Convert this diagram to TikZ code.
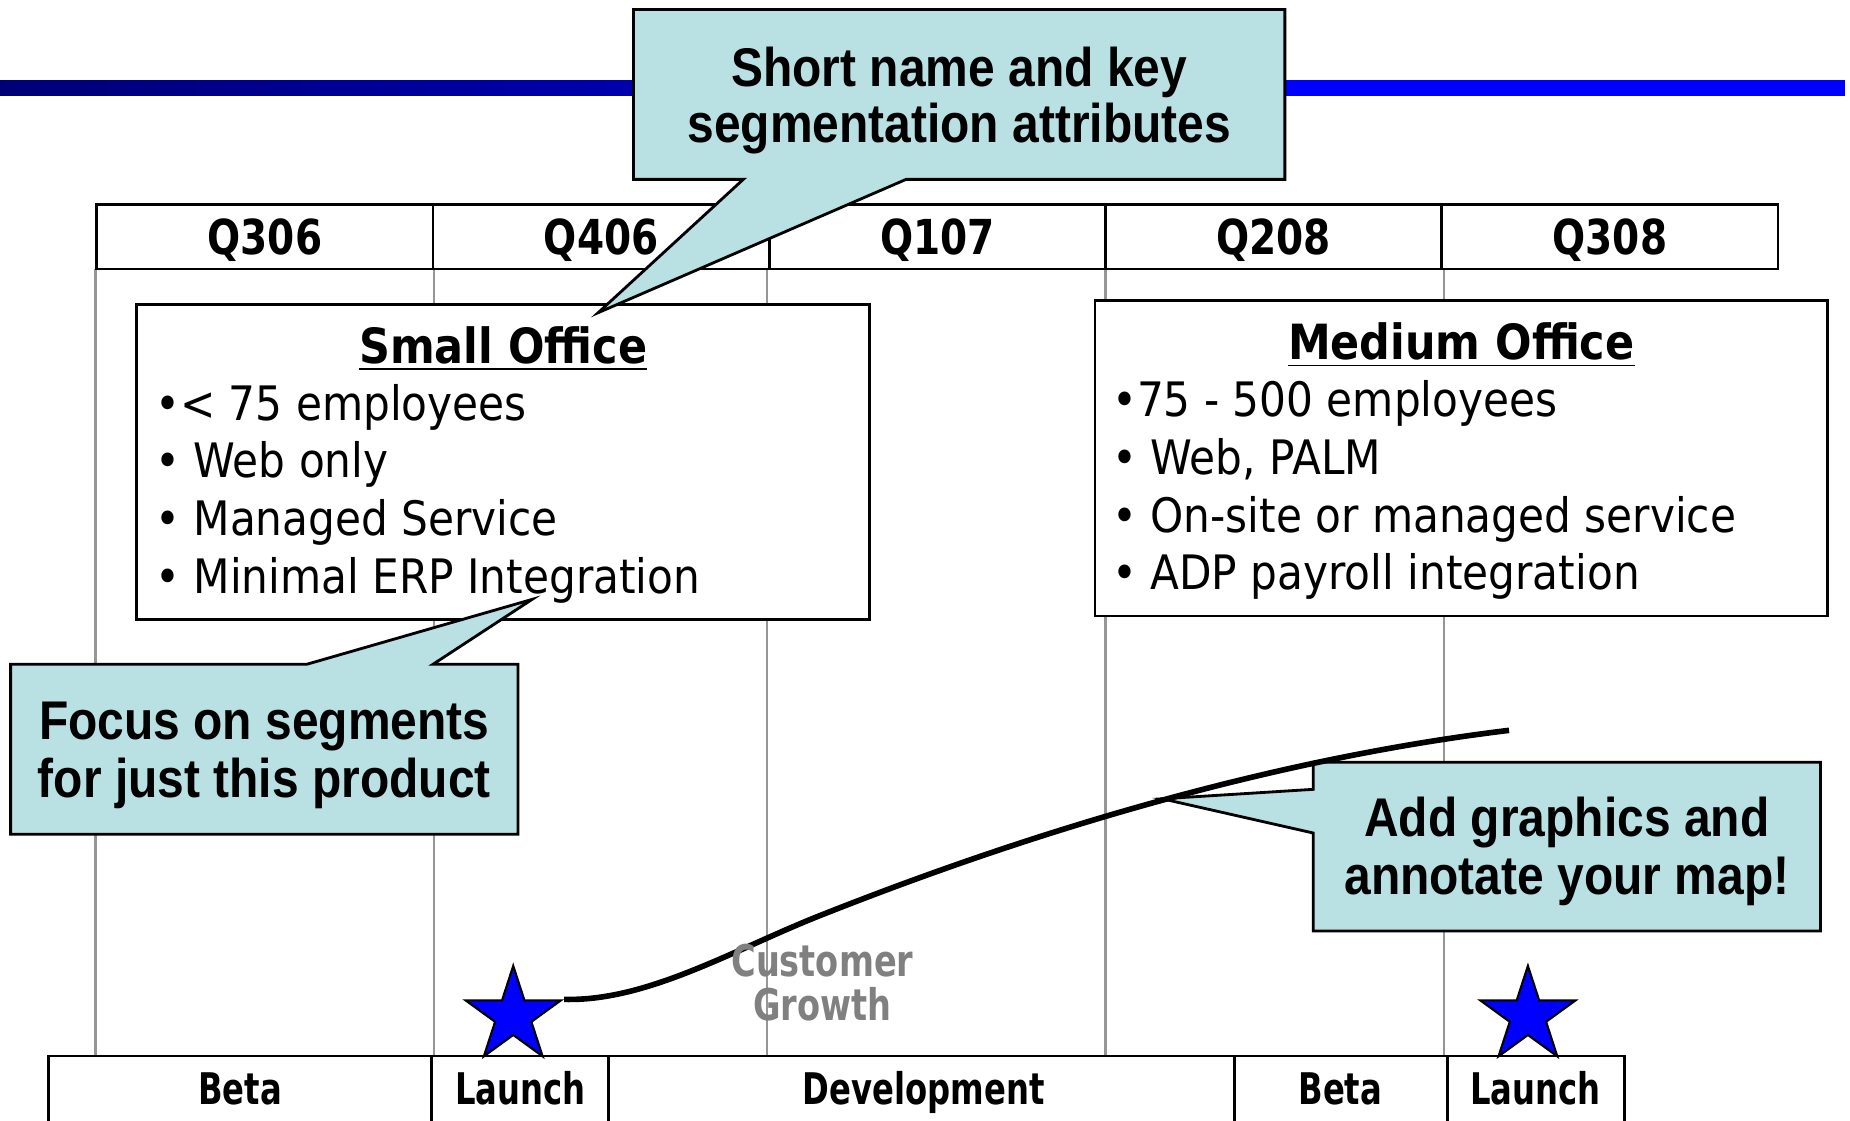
\documentclass[tikz,border=0pt]{standalone}
\usepackage{fontspec}
\usetikzlibrary{shapes.geometric,calc}

% Fonts: condensed bold sans for callouts, Tahoma-like sans for the map body
\newfontfamily\calloutfont{Liberation Sans}[FakeStretch=0.88]
\newfontfamily\bodyfont{DejaVu Sans}[FakeStretch=0.89]
\newfontfamily\titlefont{DejaVu Sans}[FakeStretch=0.885]
\newfontfamily\quarterfont{DejaVu Sans}[FakeStretch=0.81]
\newfontfamily\phasefont{DejaVu Sans}[FakeStretch=0.74]
\newfontfamily\growthfont{DejaVu Sans}[FakeStretch=0.77]

\definecolor{calloutfill}{RGB}{185,224,227}
\definecolor{gridgray}{RGB}{150,150,150}
\definecolor{growthgray}{RGB}{128,128,128}
\definecolor{barnavy}{RGB}{0,0,118}
\definecolor{barmid}{RGB}{0,0,232}
\definecolor{barblue}{RGB}{0,0,255}
\definecolor{starblue}{RGB}{0,0,255}

\newcommand\pxu{0.0118cm}

\tikzset{
  callout/.style={fill=calloutfill, draw=black, line width=0.8pt, line join=miter},
  callouttext/.style={font=\calloutfont\bfseries\fontsize{15.5}{16}\selectfont, anchor=base, inner sep=0pt},
  gridline/.style={draw=gridgray, line width=0.7pt},
  qcell/.style={draw=black, line width=0.8pt, fill=white, minimum width=285*\pxu, minimum height=55*\pxu, inner sep=0pt},
  qlabel/.style={font=\quarterfont\bfseries\fontsize{13.7}{16}\selectfont, anchor=base, inner sep=0pt},
  officebox/.style={draw=black, line width=0.8pt, fill=white, inner sep=0pt, minimum width=621*\pxu, minimum height=267*\pxu},
  officetitle/.style={font=\titlefont\bfseries\fontsize{13.8}{16}\selectfont, anchor=base, inner sep=0pt},
  bulletline/.style={font=\bodyfont\fontsize{13.5}{16}\selectfont, anchor=base west, inner sep=0pt},
  phaseline/.style={draw=black, line width=0.8pt},
  phaselabel/.style={font=\phasefont\bfseries\fontsize{12.4}{15}\selectfont, anchor=base, inner sep=0pt},
  growthlabel/.style={font=\growthfont\bfseries\fontsize{12.4}{15}\selectfont, text=growthgray, anchor=base, inner sep=0pt},
  starmark/.style={star, star points=5, star point ratio=2.618, minimum size=1.0cm, inner sep=0pt, fill=starblue, draw=black, line width=0.6pt},
  growth/.style={draw=black, line width=1.6pt},
}

\begin{document}
\begin{tikzpicture}[x=0.0118cm, y=-0.0118cm]
\useasboundingbox (0,0) rectangle (1568,950);
\fill[white] (0,0) rectangle (1568,950);

% title rule
\shade[left color=barnavy, right color=barmid] (0,68) rectangle (1090,81);
\fill[barblue] (1088,68) rectangle (1564,81);

% quarter grid lines
\foreach \gx/\gn in {81/g1,368/g2,650/g3,937/g4,1224/g5} {
  \coordinate (\gn top) at (\gx,228);
  \coordinate (\gn bot) at (\gx,895);
  \draw[gridline] (\gn top) -- (\gn bot);
}

% quarter header
\foreach \i/\q in {0/Q306,1/Q406,2/Q107,3/Q208,4/Q308} {
  \pgfmathsetmacro\cx{224.5+285*\i}
  \node[qcell] (cell\i) at (\cx,200.5) {};
  \node[qlabel] (qlab\i) at (\cx,216) {\q};
}

% small office segment
\node[officebox] (small) at (426.5,391.5) {};
\node[officetitle] (smalltitle) at (426.5,308) {\underline{Small Office}};
\node[bulletline] (s1) at (131,356) {•< 75 employees};
\node[bulletline] (s2) at (131,405) {• Web only};
\node[bulletline] (s3) at (131,454) {• Managed Service};
\node[bulletline] (s4) at (131,503) {• Minimal ERP Integration};

% medium office segment
\node[officebox] (medium) at (1238.5,388.5) {};
\node[officetitle] (medtitle) at (1238.5,305) {\underline{Medium Office}};
\node[bulletline] (m1) at (942,353) {•75 - 500 employees};
\node[bulletline] (m2) at (942,402) {• Web, PALM};
\node[bulletline] (m3) at (942,451) {• On-site or managed service};
\node[bulletline] (m4) at (942,500) {• ADP payroll integration};

% phase bar along the bottom
\draw[phaseline] (41,950) -- (41,895) -- (1377,895) -- (1377,950);
\foreach \px in {366,516,1046,1226.5} \draw[phaseline] (\px,895) -- (\px,950);
\node[phaselabel] (ph1) at (203.5,936) {Beta};
\node[phaselabel] (ph2) at (441,936) {Launch};
\node[phaselabel] (ph3) at (783,936) {Development};
\node[phaselabel] (ph4) at (1136,936) {Beta};
\node[phaselabel] (ph5) at (1301.5,936) {Launch};

% callouts
\coordinate (tipA) at (507,265);
\filldraw[callout] (537,8) -- (1089,8) -- (1089,152) -- (768,152) -- (tipA) -- (630,152) -- (537,152) -- cycle;
\node[callouttext] (ca1) at (813,73) {Short name and key};
\node[callouttext] (ca2) at (813,121) {segmentation attributes};

\coordinate (tipB) at (451,508);
\filldraw[callout] (9,563) -- (260,563) -- (tipB) -- (367,563) -- (439,563) -- (439,707) -- (9,707) -- cycle;
\node[callouttext] (cb1) at (224,627) {Focus on segments};
\node[callouttext] (cb2) at (224,676) {for just this product};

\coordinate (tipC) at (985,677);
\filldraw[callout] (1113,646) -- (1543,646) -- (1543,789) -- (1113,789) -- (1113,706) -- (tipC) -- (1113,669) -- cycle;
\node[callouttext] (cc1) at (1328,709) {Add graphics and};
\node[callouttext] (cc2) at (1328,758) {annotate your map!};

% launch stars and customer growth curve
\node[starmark] (st1) at (435,861) {};
\node[starmark] (st2) at (1295,861) {};
\coordinate (gmid) at (700,774);
\coordinate (gend) at (1279,619);
\draw[growth] (st1.outer point 5) .. controls (550,849) and (625,803) .. (gmid)
  .. controls (890,699) and (1089,642) .. (gend);

\node[growthlabel] (cg1) at (697,828) {Customer};
\node[growthlabel] (cg2) at (697,865) {Growth};
\end{tikzpicture}
\end{document}
